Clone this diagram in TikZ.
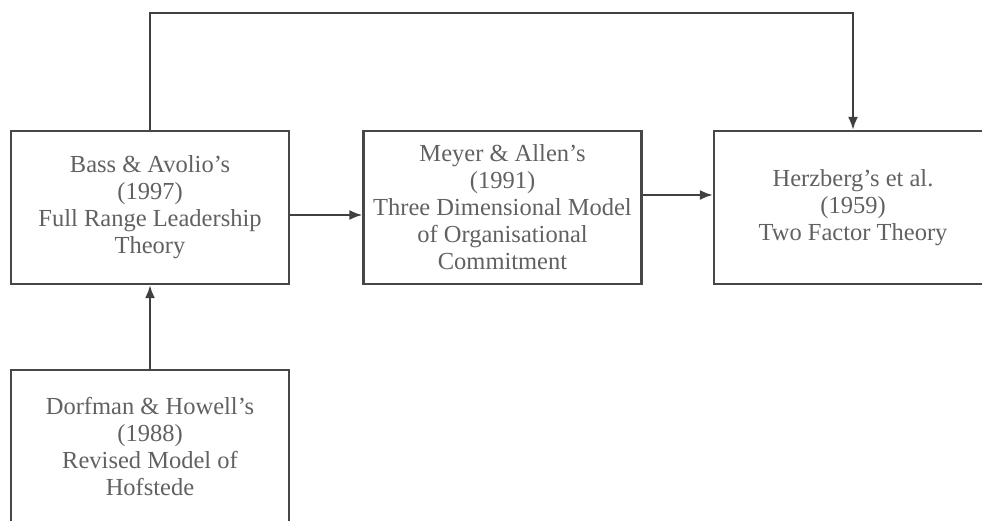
\documentclass[tikz,border=0pt]{standalone}
\usepackage{fontspec}
\setmainfont{Liberation Serif}
\usetikzlibrary{arrows,arrows.meta}

\begin{document}
\begin{tikzpicture}[x=1pt, y=-1pt, >={Latex[length=13pt,width=10pt]},
    theory/.style={draw=black!72, line width=2.2pt, minimum width=278pt, minimum height=153pt,
      inner sep=0pt, align=center, text=black!62, font=\fontsize{24.5}{27}\selectfont},
    link/.style={->, draw=black!75, line width=2.2pt}]
	\useasboundingbox (0,0) rectangle (982,521);

	\node[theory] (bass) at (150,207.5) {Bass \& Avolio's\\(1997)\\Full Range Leadership\\Theory};
	\node[theory] (meyer) at (502.5,207.5) {Meyer \& Allen's\\(1991)\\Three Dimensional Model\\of Organisational\\Commitment};
	\node[theory] (herz) at (853,207.5) {Herzberg's et al.\\(1959)\\Two Factor Theory};
	\node[theory] (dorf) at (150,446.5) {Dorfman \& Howell's\\(1988)\\Revised Model of\\Hofstede};
	\coordinate (bend) at (500,13);

	\draw[link] ([yshift=-7.5pt]bass.east) -- ([yshift=-7.5pt]bass.east -| meyer.west);
	\draw[link] ([yshift=12.5pt]meyer.east) -- ([yshift=12.5pt]meyer.east -| herz.west);
	\draw[link] (dorf.north) -- (bass.south);
	\draw[link] (bass.north) |- (bend) -| (herz.north);
\end{tikzpicture}
\end{document}
